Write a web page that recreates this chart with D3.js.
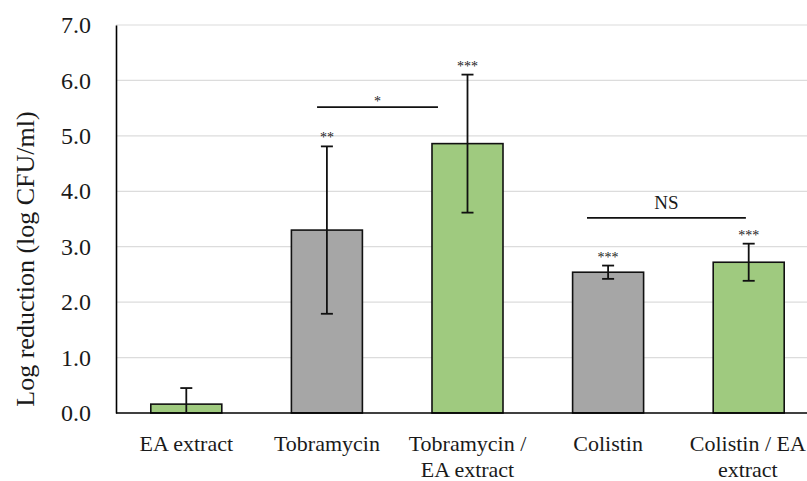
<!DOCTYPE html>
<html>
<head>
<meta charset="utf-8">
<script src="https://cdn.jsdelivr.net/npm/d3@7/dist/d3.min.js"></script>
<style>
  html, body { margin: 0; padding: 0; background: #fff; }
  svg { display: block; }
  text { font-family: "Liberation Serif", "Times New Roman", serif; fill: #1a1a1a; }
</style>
</head>
<body>
<svg id="chart" width="807" height="481"></svg>
<script>
// ---- data ----
const categories = ["EA extract", "Tobramycin", "Tobramycin / EA extract", "Colistin", "Colistin / EA extract"];
const labelLines = [["EA extract"], ["Tobramycin"], ["Tobramycin /", "EA extract"], ["Colistin"], ["Colistin / EA", "extract"]];
const means = [0.16, 3.30, 4.86, 2.54, 2.72];
const errors = [0.29, 1.51, 1.245, 0.12, 0.335];
const groups = ["extract", "antibiotic", "combination", "antibiotic", "combination"];
const stars = ["", "**", "***", "***", "***"];
const yTicks = [0, 1, 2, 3, 4, 5, 6, 7];
const bracketFrom = [0.93, 2.85];
const bracketTo = [1.79, 3.98];
const bracketY = [5.52, 3.52];
const bracketLabels = ["*", "NS"];

// ---- layout ----
const svg = d3.select("#chart");
const W = 807;
const mLeft = 116, mBottom = 413, mTop = 25;
const step = 140.6;

const x = d3.scaleBand().domain(categories)
  .range([mLeft, mLeft + step * categories.length])
  .paddingInner(0.495).paddingOuter(0.2475);
const xIdx = d3.scaleLinear().domain([0, 1]).range([x(categories[0]) + x.bandwidth() / 2, x(categories[1]) + x.bandwidth() / 2]);
const y = d3.scaleLinear().domain([0, 7]).range([mBottom, mTop]);
const color = d3.scaleOrdinal().domain(["extract", "antibiotic", "combination"]).range(["#9fca7f", "#a6a6a6", "#9fca7f"]);

// gridlines
svg.append("g").selectAll("line").data(yTicks.filter(d => d > 0)).join("line")
  .attr("x1", mLeft).attr("x2", W)
  .attr("y1", d => y(d)).attr("y2", d => y(d))
  .attr("stroke", "#dcdcdc").attr("stroke-width", 1.2);

// y axis
const yAxis = d3.axisLeft(y).tickValues(yTicks).tickFormat(d3.format(".1f")).tickSize(0).tickPadding(25);
const gy = svg.append("g").attr("transform", `translate(${mLeft},0)`).call(yAxis);
gy.select(".domain").attr("stroke", "#000").attr("stroke-width", 1.6);
gy.selectAll("text").style("font-size", "24px").style("font-family", "Liberation Serif").attr("fill", "#1a1a1a");

// y title
svg.append("text")
  .attr("transform", `translate(34,259) rotate(-90)`)
  .attr("text-anchor", "middle")
  .style("font-size", "26px")
  .text("Log reduction (log CFU/ml)");

// bars
svg.append("g").selectAll("rect").data(categories).join("rect")
  .attr("x", d => x(d))
  .attr("y", (d, i) => y(means[i]))
  .attr("width", x.bandwidth())
  .attr("height", (d, i) => y(0) - y(means[i]))
  .attr("fill", (d, i) => color(groups[i]))
  .attr("stroke", "#111").attr("stroke-width", 1.6);

// x axis line
svg.append("line").attr("x1", mLeft).attr("x2", W).attr("y1", y(0)).attr("y2", y(0))
  .attr("stroke", "#000").attr("stroke-width", 1.6);

// error bars
const eb = svg.append("g").attr("stroke", "#111").attr("stroke-width", 1.8);
categories.forEach((c, i) => {
  const cx = x(c) + x.bandwidth() / 2;
  const hi = means[i] + errors[i];
  const lo = Math.max(0, means[i] - errors[i]);
  eb.append("line").attr("x1", cx).attr("x2", cx).attr("y1", y(hi)).attr("y2", y(lo));
  eb.append("line").attr("x1", cx - 6).attr("x2", cx + 6).attr("y1", y(hi)).attr("y2", y(hi));
  if (lo > 0) eb.append("line").attr("x1", cx - 6).attr("x2", cx + 6).attr("y1", y(lo)).attr("y2", y(lo));
  if (stars[i]) {
    svg.append("text").attr("x", cx).attr("y", y(hi) - 4)
      .attr("text-anchor", "middle").style("font-size", "14px").text(stars[i]);
  }
});

// x labels
categories.forEach((c, i) => {
  const cx = x(c) + x.bandwidth() / 2;
  const t = svg.append("text").attr("text-anchor", "middle").style("font-size", "22px");
  labelLines[i].forEach((ln, k) => {
    t.append("tspan").attr("x", cx).attr("y", 451 + k * 26).text(ln);
  });
  // keep the last label inside the canvas edge
  const bb = t.node().getBBox();
  if (bb.x + bb.width > W - 1) {
    const shift = bb.x + bb.width - (W - 1);
    t.selectAll("tspan").attr("x", cx - shift);
  }
});

// significance brackets
bracketLabels.forEach((lab, i) => {
  const x1 = xIdx(bracketFrom[i]), x2 = xIdx(bracketTo[i]), yy = y(bracketY[i]);
  svg.append("line").attr("x1", x1).attr("x2", x2).attr("y1", yy).attr("y2", yy)
    .attr("stroke", "#111").attr("stroke-width", 1.8);
  const isStar = lab.indexOf("*") >= 0;
  svg.append("text").attr("x", (x1 + x2) / 2).attr("y", isStar ? yy - 1 : yy - 9)
    .attr("text-anchor", "middle").style("font-size", isStar ? "14px" : "19px").text(lab);
});
</script>
</body>
</html>
